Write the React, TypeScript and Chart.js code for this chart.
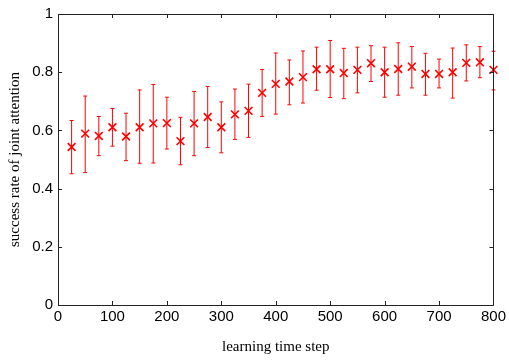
import { useEffect, useRef } from "react";
import { Chart, registerables } from "chart.js";

Chart.register(...registerables);

const steps = [25, 50, 75, 100, 125, 150, 175, 200, 225, 250, 275, 300, 325, 350, 375, 400, 425, 450, 475, 500, 525, 550, 575, 600, 625, 650, 675, 700, 725, 750, 775, 800];
const successRate = [0.543, 0.589, 0.581, 0.611, 0.579, 0.611, 0.624, 0.625, 0.563, 0.624, 0.646, 0.611, 0.655, 0.667, 0.729, 0.760, 0.768, 0.783, 0.810, 0.810, 0.797, 0.808, 0.831, 0.800, 0.811, 0.819, 0.794, 0.794, 0.800, 0.832, 0.834, 0.808];
const upperBound = [0.634, 0.718, 0.648, 0.675, 0.659, 0.739, 0.758, 0.714, 0.645, 0.734, 0.751, 0.698, 0.742, 0.759, 0.809, 0.866, 0.842, 0.873, 0.886, 0.909, 0.882, 0.886, 0.891, 0.886, 0.901, 0.888, 0.865, 0.845, 0.883, 0.894, 0.888, 0.872];
const lowerBound = [0.451, 0.455, 0.513, 0.546, 0.496, 0.487, 0.488, 0.536, 0.482, 0.513, 0.541, 0.523, 0.569, 0.576, 0.648, 0.656, 0.688, 0.694, 0.738, 0.713, 0.709, 0.729, 0.768, 0.714, 0.721, 0.746, 0.721, 0.746, 0.711, 0.770, 0.781, 0.739];
const xTickValues = [0, 100, 200, 300, 400, 500, 600, 700, 800];
const xTickLabels = ["0", "100", "200", "300", "400", "500", "600", "700", "800"];
const yTickValues = [0, 0.2, 0.4, 0.6, 0.8, 1];
const yTickLabels = ["0", "0.2", "0.4", "0.6", "0.8", "1"];
const xTitle = "learning time step";
const yTitle = "success rate of joint attention";

const errorBarPlugin = {
  id: "errorBars",
  beforeDatasetsDraw(chart: any) {
    const { ctx, scales } = chart;
    const x = scales.x;
    const y = scales.y;
    ctx.save();
    ctx.strokeStyle = "#ff0000";
    ctx.lineWidth = 1;
    steps.forEach((s, i) => {
      const px = x.getPixelForValue(s);
      const top = y.getPixelForValue(upperBound[i]);
      const bot = y.getPixelForValue(lowerBound[i]);
      ctx.beginPath();
      ctx.moveTo(px, top);
      ctx.lineTo(px, bot);
      ctx.moveTo(px - 2, top);
      ctx.lineTo(px + 2, top);
      ctx.moveTo(px - 2, bot);
      ctx.lineTo(px + 2, bot);
      ctx.stroke();
    });
    ctx.restore();
  },
};

const framePlugin = {
  id: "frame",
  afterDraw(chart: any) {
    const { ctx, chartArea, scales } = chart;
    const { left, right, top, bottom } = chartArea;
    const tl = 4;
    ctx.save();
    ctx.strokeStyle = "#222";
    ctx.lineWidth = 1;
    ctx.beginPath();
    ctx.rect(Math.round(left) + 0.5, Math.round(top) + 0.5, Math.round(right - left), Math.round(bottom - top));
    xTickValues.forEach((v) => {
      const px = Math.round(scales.x.getPixelForValue(v)) + 0.5;
      ctx.moveTo(px, bottom);
      ctx.lineTo(px, bottom - tl);
      ctx.moveTo(px, top);
      ctx.lineTo(px, top + tl);
    });
    yTickValues.forEach((v) => {
      const py = Math.round(scales.y.getPixelForValue(v)) + 0.5;
      ctx.moveTo(left, py);
      ctx.lineTo(left + tl, py);
      ctx.moveTo(right, py);
      ctx.lineTo(right - tl, py);
    });
    ctx.stroke();
    ctx.restore();
  },
};

export default function App() {
  const ref = useRef<HTMLCanvasElement | null>(null);
  useEffect(() => {
    if (!ref.current) return;
    const tickFont = { family: "'Liberation Sans', Arial, sans-serif", size: 15 };
    const titleFont = { family: "'Liberation Serif', 'Times New Roman', serif", size: 15 };
    const chart = new Chart(ref.current, {
      type: "scatter",
      data: {
        datasets: [
          {
            data: steps.map((s, i) => ({ x: s, y: successRate[i] })),
            pointStyle: "crossRot",
            pointRadius: 5.5,
            pointBorderWidth: 1.6,
            borderColor: "#ff0000",
            backgroundColor: "#ff0000",
            pointHoverRadius: 5.5,
            clip: false,
          } as any,
        ],
      },
      options: {
        responsive: false,
        animation: false,
        events: [],
        layout: { padding: { left: 0, right: 14, top: 13, bottom: 0 } },
        plugins: { legend: { display: false }, tooltip: { enabled: false } },
        scales: {
          x: {
            type: "linear",
            min: 0,
            max: 800,
            grid: { display: false, drawTicks: false },
            border: { display: false },
            ticks: {
              font: tickFont,
              color: "#000",
              padding: 3,
              autoSkip: false,
              maxRotation: 0,
              callback: (_v: any, i: number) => xTickLabels[i],
            },
            afterBuildTicks: (s: any) => {
              s.ticks = xTickValues.map((v) => ({ value: v }));
            },
            afterFit: (s: any) => {
              s.height = 55;
            },
            title: { display: true, text: xTitle, font: titleFont, color: "#000", padding: { top: 4, bottom: 4 } },
          },
          y: {
            type: "linear",
            min: 0,
            max: 1,
            grid: { display: false, drawTicks: false },
            border: { display: false },
            ticks: {
              font: tickFont,
              color: "#000",
              padding: 5,
              autoSkip: false,
              callback: (_v: any, i: number) => yTickLabels[i],
            },
            afterBuildTicks: (s: any) => {
              s.ticks = yTickValues.map((v) => ({ value: v }));
            },
            afterFit: (s: any) => {
              s.width = 58;
            },
            title: { display: true, text: yTitle, font: titleFont, color: "#000", padding: { top: 6, bottom: 6 } },
          },
        },
      },
      plugins: [errorBarPlugin, framePlugin],
    });
    return () => chart.destroy();
  }, []);
  return (
    <div style={{ position: "fixed", left: 0, top: 0, width: 509, height: 360, background: "#fff" }}>
      <canvas ref={ref} width={509} height={360} style={{ display: "block" }} />
    </div>
  );
}
